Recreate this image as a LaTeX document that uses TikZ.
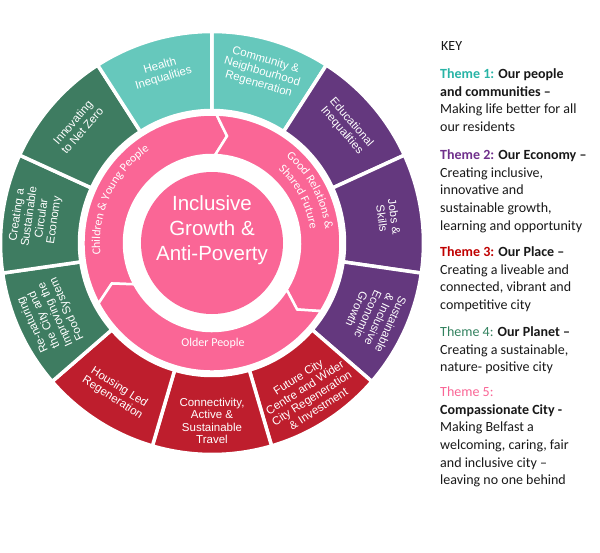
\documentclass[tikz,border=0pt]{standalone}
\usepackage{fontspec}
\setmainfont{Liberation Sans}
\newfontfamily\calibri{Carlito}
\usetikzlibrary{decorations.text}

\definecolor{teal1}{RGB}{102,200,188}
\definecolor{purple2}{RGB}{100,56,126}
\definecolor{red3}{RGB}{190,30,45}
\definecolor{green4}{RGB}{62,124,97}
\definecolor{pink5}{RGB}{250,102,150}
\definecolor{teal1key}{RGB}{40,180,166}
\definecolor{purple2key}{RGB}{112,48,140}
\definecolor{red3key}{RGB}{192,0,0}
\definecolor{green4key}{RGB}{50,130,95}
\definecolor{keytext}{RGB}{25,25,25}

\begin{document}
\begin{tikzpicture}[
    x=1pt, y=1pt,
    seglabel/.style={text=white, align=center, inner sep=0pt, font=\fontsize{11.5}{12.5}\selectfont},
    keyitem/.style={anchor=north west, align=left, inner sep=0pt, text=keytext, font=\calibri\fontsize{14}{17.6}\selectfont}
]

    \useasboundingbox[fill=white] (-212,-309) rectangle (388,243);

    % Anillo exterior
    \foreach \k/\segcol in {0/teal1, 1/purple2, 2/purple2, 3/purple2, 4/red3, 5/red3,
                            6/red3, 7/green4, 8/green4, 9/green4, 10/teal1}{
        \pgfmathsetmacro\segstart{90-\k*360/11}
        \pgfmathsetmacro\segend{90-(\k+1)*360/11}
        \fill[\segcol, draw=white, line width=3.5pt] (\segstart:211.5pt) arc[start angle=\segstart, end angle=\segend, radius=211.5pt]
            -- (\segend:132.5pt) arc[start angle=\segend, end angle=\segstart, radius=132.5pt] -- cycle;
    }

    % Textos del anillo (angulo medio 90-(k+0.5)*360/11)
    \node[seglabel, rotate=-16.36] (seg0) at (73.64:178pt) {Community \&\\Neighbourhood\\Regeneration};
    \node[seglabel, rotate=-49.09] (seg1) at (40.91:178pt) {Educational\\Inequalities};
    \node[seglabel, rotate=-81.82] (seg2) at (8.18:178pt) {Jobs \&\\Skills};
    \node[seglabel, rotate=-114.55] (seg3) at (-24.55:178pt) {Sustainable\\\& Inclusive\\Economic\\Growth};
    \node[seglabel, rotate=32.73] (seg4) at (-57.27:178pt) {Future City\\Centre and Wider\\City Regeneration\\\& Investment};
    \node[seglabel, rotate=0] (seg5) at (-90:178pt) {Connectivity,\\Active \&\\Sustainable\\Travel};
    \node[seglabel, rotate=-32.73] (seg6) at (-122.73:178pt) {Housing Led\\Regeneration};
    \node[seglabel, rotate=114.55] (seg7) at (204.55:178pt) {Re-naturing\\the City and\\Improving the\\Food System};
    \node[seglabel, rotate=81.82] (seg8) at (171.82:178pt) {Creating a\\Sustainable\\Circular\\Economy};
    \node[seglabel, rotate=49.09] (seg9) at (139.09:178pt) {Innovating\\to Net Zero};
    \node[seglabel, rotate=16.36] (seg10) at (106.36:178pt) {Health\\Inequalities};

    % Flechas
    \foreach \a/\e in {208/88, 88/-32, -32/-152}{
        \fill[pink5, draw=white, line width=2.5pt] (\a:128.5pt) arc[start angle=\a, end angle=\e, radius=128.5pt]
            -- (\e-6:108pt) -- (\e:88pt) arc[start angle=\e, end angle=\a, radius=88pt] -- (\a-6:108pt) -- cycle;
    }

    \path[decorate, decoration={text along path, text align=center,
            text={|\calibri\fontsize{12}{14}\selectfont\color{white}|Children {\&} Young People}}]
        (200:112pt) arc[start angle=200, end angle=110, radius=112pt];
    \path[decorate, decoration={text along path, text align=center,
            text={|\calibri\fontsize{12}{14}\selectfont\color{white}|Good Relations {\&}}}]
        (73:114pt) arc[start angle=73, end angle=-17, radius=114pt];
    \path[decorate, decoration={text along path, text align=center,
            text={|\calibri\fontsize{12}{14}\selectfont\color{white}|Shared Future}}]
        (73:99pt) arc[start angle=73, end angle=-17, radius=99pt];
    \node[text=white, font=\calibri\fontsize{12}{14}\selectfont] (older) at (1,-100) {Older People};

    % Centro
    \node[circle, fill=pink5, minimum size=142pt, inner sep=0pt] (hub) at (0,0) {};
    \node[text=white, align=center, font=\fontsize{20.5}{25}\selectfont] (hubtitle) at (0,13) {Inclusive\\Growth \&\\Anti-Poverty};

    % Leyenda
    \node[keyitem, anchor=base west] (key) at (229,192) {KEY};
    \node[keyitem] (theme1) at (228,176.8) {\strut\textcolor{teal1key}{\textbf{Theme 1:}} \textbf{Our people}\\ \textbf{and communities –}\\ Making life better for all\\ our residents};
    \node[keyitem] (theme2) at (228,95.8) {\strut\textcolor{purple2key}{\textbf{Theme 2:}} \textbf{Our Economy –}\\ Creating inclusive,\\ innovative and\\ sustainable growth,\\ learning and opportunity};
    \node[keyitem] (theme3) at (228,-1.2) {\strut\textcolor{red3key}{\textbf{Theme 3:}} \textbf{Our Place –}\\ Creating a liveable and\\ connected, vibrant and\\ competitive city};
    \node[keyitem] (theme4) at (228,-81.2) {\strut\textcolor{green4key}{Theme 4:} \textbf{Our Planet –}\\ Creating a sustainable,\\ nature- positive city};
    \node[keyitem] (theme5) at (228,-141.2) {\strut\textcolor{pink5}{Theme 5:}\\ \textbf{Compassionate City -}\\ Making Belfast a\\ welcoming, caring, fair\\ and inclusive city –\\ leaving no one behind};

\end{tikzpicture}
\end{document}
